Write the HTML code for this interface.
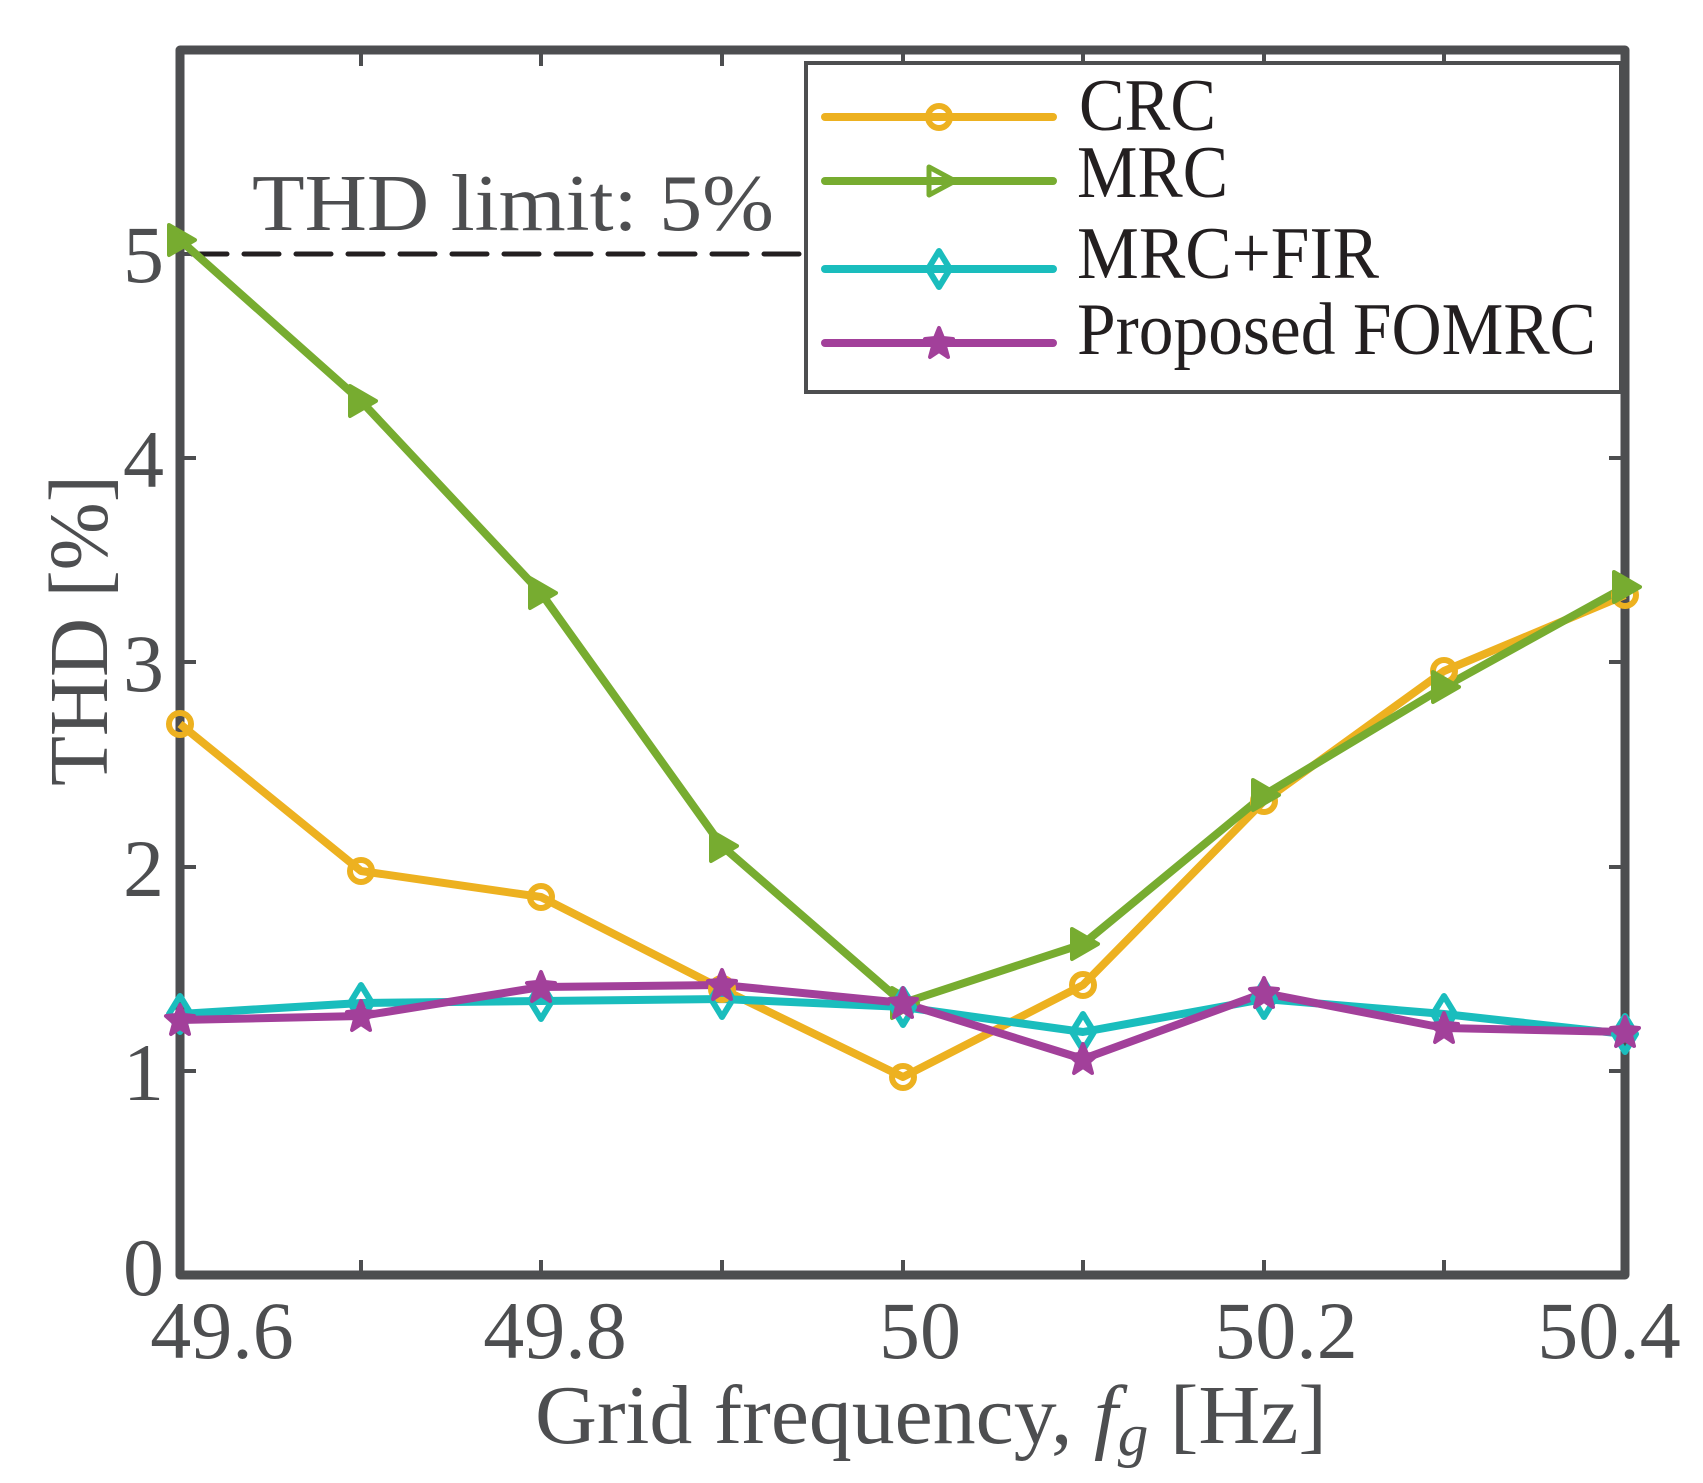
<!DOCTYPE html>
<html><head><meta charset="utf-8"><style>body{margin:0;background:#fff}svg{display:block}</style></head>
<body>
<svg width="1703" height="1483" viewBox="0 0 1703 1483" xmlns="http://www.w3.org/2000/svg" font-family="'Liberation Serif', serif">
<defs>
<g id="circ"><circle r="11" fill="none" stroke="#EDB120" stroke-width="6"/></g>
<g id="tri"><path d="M-11,-15 L15,0 L-11,15 Z" fill="#77AC30" stroke="#77AC30" stroke-width="4" stroke-linejoin="round"/></g>
<g id="dia"><path d="M0,-18 L11,0 L0,18 L-11,0 Z" fill="none" stroke="#1ABDBD" stroke-width="6" stroke-linejoin="round"/></g>
<g id="star"><path d="M0,-15 L4,-5 L14,-4 L6,3 L9,14 L0,8 L-9,14 L-6,3 L-14,-4 L-4,-5 Z" fill="#A2409A" stroke="#A2409A" stroke-width="4" stroke-linejoin="round"/></g>
</defs>
<line x1="192" y1="254" x2="1625" y2="254" stroke="#231f20" stroke-width="5" stroke-dasharray="35,17" stroke-linecap="round"/>
<text x="252" y="230" font-size="80" fill="#4d4e50" textLength="522" lengthAdjust="spacingAndGlyphs">THD limit: 5%</text>
<g stroke="#4d4e50" stroke-width="4">
<line x1="361" y1="1275" x2="361" y2="1260"/><line x1="541" y1="1275" x2="541" y2="1260"/><line x1="722" y1="1275" x2="722" y2="1260"/><line x1="903" y1="1275" x2="903" y2="1260"/><line x1="1083" y1="1275" x2="1083" y2="1260"/><line x1="1264" y1="1275" x2="1264" y2="1260"/><line x1="1444" y1="1275" x2="1444" y2="1260"/>
<line x1="361" y1="50" x2="361" y2="66"/><line x1="541" y1="50" x2="541" y2="66"/><line x1="722" y1="50" x2="722" y2="66"/><line x1="903" y1="50" x2="903" y2="66"/><line x1="1083" y1="50" x2="1083" y2="66"/><line x1="1264" y1="50" x2="1264" y2="66"/><line x1="1444" y1="50" x2="1444" y2="66"/>
<line x1="180" y1="1071" x2="196" y2="1071"/><line x1="180" y1="867" x2="196" y2="867"/><line x1="180" y1="662" x2="196" y2="662"/><line x1="180" y1="458" x2="196" y2="458"/><line x1="180" y1="254" x2="196" y2="254"/>
<line x1="1625" y1="1071" x2="1609" y2="1071"/><line x1="1625" y1="867" x2="1609" y2="867"/><line x1="1625" y1="662" x2="1609" y2="662"/><line x1="1625" y1="458" x2="1609" y2="458"/><line x1="1625" y1="254" x2="1609" y2="254"/>
</g>
<rect x="180" y="50" width="1445" height="1225" fill="none" stroke="#4d4e50" stroke-width="9" stroke-linejoin="round"/>
<g fill="none" stroke-width="8" stroke-linejoin="round">
<polyline stroke="#EDB120" points="180,724 361,871 541,897 722,989 903,1077 1083,985 1264,801 1444,671 1625,595"/>
<polyline stroke="#77AC30" points="180,240 361,401 541,593 722,846 903,1003 1083,944 1264,795 1444,687 1625,587"/>
<polyline stroke="#1ABDBD" points="180,1014 361,1003 541,1001 722,999 903,1007 1083,1032 1264,999 1444,1014 1625,1034"/>
<polyline stroke="#A2409A" points="180,1020 361,1016 541,987 722,985 903,1003 1083,1059 1264,993 1444,1028 1625,1032"/>
</g>
<g>
<use href="#circ" x="180" y="724"/><use href="#circ" x="361" y="871"/><use href="#circ" x="541" y="897"/><use href="#circ" x="722" y="989"/><use href="#circ" x="903" y="1077"/><use href="#circ" x="1083" y="985"/><use href="#circ" x="1264" y="801"/><use href="#circ" x="1444" y="671"/><use href="#circ" x="1625" y="595"/>
<use href="#tri" x="180" y="240"/><use href="#tri" x="361" y="401"/><use href="#tri" x="541" y="593"/><use href="#tri" x="722" y="846"/><use href="#tri" x="903" y="1003"/><use href="#tri" x="1083" y="944"/><use href="#tri" x="1264" y="795"/><use href="#tri" x="1444" y="687"/><use href="#tri" x="1625" y="587"/>
<use href="#dia" x="180" y="1014"/><use href="#dia" x="361" y="1003"/><use href="#dia" x="541" y="1001"/><use href="#dia" x="722" y="999"/><use href="#dia" x="903" y="1007"/><use href="#dia" x="1083" y="1032"/><use href="#dia" x="1264" y="999"/><use href="#dia" x="1444" y="1014"/><use href="#dia" x="1625" y="1034"/>
<use href="#star" x="180" y="1020"/><use href="#star" x="361" y="1016"/><use href="#star" x="541" y="987"/><use href="#star" x="722" y="985"/><use href="#star" x="903" y="1003"/><use href="#star" x="1083" y="1059"/><use href="#star" x="1264" y="993"/><use href="#star" x="1444" y="1028"/><use href="#star" x="1625" y="1032"/>
</g>
<g font-size="82" fill="#4d4e50" text-anchor="middle">
<text x="222" y="1358">49.6</text><text x="555" y="1358">49.8</text><text x="920" y="1358">50</text><text x="1286" y="1358">50.2</text><text x="1609" y="1358">50.4</text>
</g>
<g font-size="82" fill="#4d4e50" text-anchor="end">
<text x="164" y="1295">0</text><text x="164" y="1100">1</text><text x="164" y="896">2</text><text x="164" y="691">3</text><text x="164" y="487">4</text><text x="164" y="282">5</text>
</g>
<text x="535" y="1443" font-size="84" fill="#4d4e50" textLength="792" lengthAdjust="spacingAndGlyphs">Grid frequency, <tspan font-style="italic">f</tspan><tspan font-style="italic" font-size="60" dy="12">g</tspan><tspan dy="-12"> [Hz]</tspan></text>
<text transform="translate(107,786) rotate(-90)" font-size="84" fill="#4d4e50" textLength="311" lengthAdjust="spacingAndGlyphs">THD [%]</text>
<rect x="806" y="63" width="815" height="329" fill="#fff" stroke="#4d4e50" stroke-width="4"/>
<g stroke-width="8" stroke-linecap="round">
<line x1="825" y1="117" x2="1053" y2="117" stroke="#EDB120"/>
<line x1="825" y1="181" x2="1053" y2="181" stroke="#77AC30"/>
<line x1="825" y1="269" x2="1053" y2="269" stroke="#1ABDBD"/>
<line x1="825" y1="343" x2="1053" y2="343" stroke="#A2409A"/>
</g>
<use href="#circ" x="939" y="117"/>
<path d="M929,167 L955,181 L929,195 Z" fill="none" stroke="#77AC30" stroke-width="5" stroke-linejoin="round"/>
<use href="#dia" x="939" y="269"/>
<use href="#star" x="939" y="343"/>
<g font-size="74" fill="#231f20">
<text x="1079" y="130" textLength="137" lengthAdjust="spacingAndGlyphs">CRC</text>
<text x="1077" y="197" textLength="151" lengthAdjust="spacingAndGlyphs">MRC</text>
<text x="1077" y="278" textLength="302" lengthAdjust="spacingAndGlyphs">MRC+FIR</text>
<text x="1077" y="354" textLength="519" lengthAdjust="spacingAndGlyphs">Proposed FOMRC</text>
</g>
</svg>
</body></html>
